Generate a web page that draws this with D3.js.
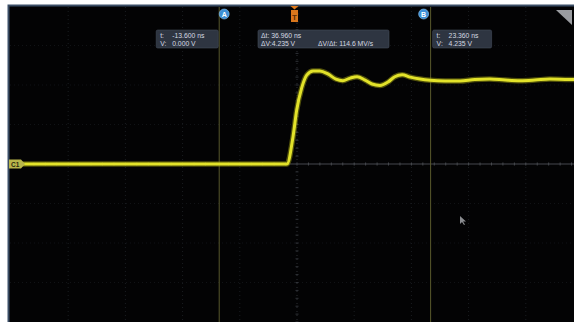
<!DOCTYPE html>
<html>
<head>
<meta charset="utf-8">
<script src="https://cdn.jsdelivr.net/npm/d3@7"></script>
<style>
  body { margin: 0; background: #fff; }
  svg { display: block; }
</style>
</head>
<body>
<svg id="scope" width="574" height="322"></svg>
<script>
// waveform samples (time in ns, volts)
const timeNs = [-50, -20, -1.75, -0.7, -0.05, 0.82, 1.7, 2.8, 4.0, 5.4, 6.8, 8.0, 9.3, 10.5, 11.9, 13.1, 14.5, 15.9, 17.1, 18.4, 19.8, 21.5, 23.3, 25.9, 28.5, 31.1, 33.7, 36.4, 39.0, 41.6, 44.2, 46.9, 49.5];
const voltsV = [0, 0, 0, 1.37, 2.73, 3.85, 4.5, 4.71, 4.71, 4.56, 4.3, 4.22, 4.35, 4.42, 4.25, 4.05, 3.98, 4.15, 4.42, 4.52, 4.4, 4.3, 4.235, 4.2, 4.2, 4.28, 4.3, 4.25, 4.22, 4.25, 4.3, 4.28, 4.27];

const timeGrid = [-40, -30, -20, -10, 10, 20, 30, 40];
const voltGrid = [-6, -4, -2, 2, 4, 6];

const cursorNames = ['A', 'B'];
const cursorTimes = [-13.6, 23.36];
const cursorLines = [['t:', '-13.600 ns', 'V:', '0.000 V'], ['t:', '23.360 ns', 'V:', '4.235 V']];
const deltaLines = ['Δt: 36.960 ns', 'ΔV:4.235 V', 'ΔV/Δt: 114.6 MV/s'];

const svg = d3.select('#scope');
const W = 574, H = 322;

const x = d3.scaleLinear().domain([-50, 50]).range([11, 583]);
const y = d3.scaleLinear().domain([-8, 8]).range([322, 6]);

// screen
svg.append('rect').attr('x', 8).attr('y', 5).attr('width', W - 8).attr('height', H - 5).attr('fill', '#030304');
svg.append('path')
  .attr('d', `M8.5,${H} V5.5 H${W}`)
  .attr('fill', 'none').attr('stroke', '#3b4e66').attr('stroke-width', 2);

const grid = svg.append('g').attr('stroke', '#1a1d21').attr('stroke-dasharray', '1,3');
grid.selectAll('line.v').data(timeGrid).join('line')
  .attr('x1', d => x(d)).attr('x2', d => x(d)).attr('y1', 7).attr('y2', H);
grid.selectAll('line.h').data(voltGrid).join('line')
  .attr('y1', d => y(d)).attr('y2', d => y(d)).attr('x1', 10).attr('x2', W)
  .attr('stroke', '#111316');

// centre cross with minor ticks
const cross = svg.append('g').attr('stroke', '#46494e');
cross.append('line').attr('x1', 10).attr('x2', W).attr('y1', y(0)).attr('y2', y(0));
cross.append('line').attr('x1', x(0)).attr('x2', x(0)).attr('y1', 7).attr('y2', H)
  .attr('stroke', '#2c2f33').attr('stroke-dasharray', '1,3');
cross.selectAll('line.tx').data(d3.range(-50, 51, 2)).join('line')
  .attr('x1', d => x(d)).attr('x2', d => x(d)).attr('y1', y(0) - 1.5).attr('y2', y(0) + 1.5);
cross.selectAll('line.ty').data(d3.range(-8, 8.1, 0.4)).join('line')
  .attr('y1', d => y(d)).attr('y2', d => y(d)).attr('x1', x(0) - 1.5).attr('x2', x(0) + 1.5)
  .attr('stroke', '#303338');

// cursor lines
svg.selectAll('line.cur').data(cursorTimes).join('line')
  .attr('x1', d => x(d)).attr('x2', d => x(d)).attr('y1', 7).attr('y2', H)
  .attr('stroke', '#59592c').attr('stroke-width', 1);

// trace
const pts = timeNs.map((t, i) => [t, voltsV[i]]);
const line = d3.line().x(d => x(d[0])).y(d => y(d[1])).curve(d3.curveMonotoneX);
svg.append('path').datum(pts).attr('d', line)
  .attr('fill', 'none').attr('stroke', '#8f8f10').attr('stroke-width', 5.5).attr('opacity', 0.55);
svg.append('path').datum(pts).attr('d', line)
  .attr('fill', 'none').attr('stroke', '#e2e22a').attr('stroke-width', 3);

// readout boxes
const font = 'Liberation Sans, Arial, sans-serif';
function box(x0, w, rows) {
  const g = svg.append('g');
  g.append('rect').attr('x', x0).attr('y', 30).attr('width', w).attr('height', 18)
    .attr('rx', 1.5).attr('fill', '#2e3541').attr('stroke', '#454e5c').attr('stroke-width', 0.6);
  g.selectAll('text').data(rows).join('text')
    .attr('x', d => x0 + d[0]).attr('y', d => d[1])
    .attr('font-family', font).attr('font-size', 6.8).attr('fill', '#d6dae2')
    .text(d => d[2]);
  return g;
}
const xa = x(cursorTimes[0]), xb = x(cursorTimes[1]);
box(xa - 63, 62, [[4, 37.5, cursorLines[0][0]], [16, 37.5, cursorLines[0][1]], [4, 45.5, cursorLines[0][2]], [16, 45.5, cursorLines[0][3]]]);
box(xb + 2, 59, [[4, 37.5, cursorLines[1][0]], [16, 37.5, cursorLines[1][1]], [4, 45.5, cursorLines[1][2]], [16, 45.5, cursorLines[1][3]]]);
box(258, 131, [[3, 37.5, deltaLines[0]], [3, 45.5, deltaLines[1]], [60, 46, deltaLines[2]]]);

// cursor badges
svg.selectAll('circle.badge').data(cursorTimes).join('circle')
  .attr('cx', d => x(d) + (d < 0 ? 5 : -7)).attr('cy', 14).attr('r', 5)
  .attr('fill', '#3d8fd6').attr('stroke', '#8cc4f0').attr('stroke-width', 0.6);
svg.selectAll('text.badge').data(cursorTimes).join('text')
  .attr('x', d => x(d) + (d < 0 ? 5 : -7)).attr('y', 16.5).attr('text-anchor', 'middle')
  .attr('font-family', font).attr('font-size', 7).attr('font-weight', 'bold').attr('fill', '#fff')
  .text((d, i) => cursorNames[i]);

// trigger marker
const xt = x(0) - 2.5;
svg.append('path').attr('d', `M${xt - 4},6 H${xt + 4} L${xt},9.5 Z`).attr('fill', '#e07a1a');
svg.append('rect').attr('x', xt - 3.5).attr('y', 10).attr('width', 7).attr('height', 12)
  .attr('fill', '#d9761c');
svg.append('text').attr('x', xt).attr('y', 19.5).attr('text-anchor', 'middle')
  .attr('font-family', font).attr('font-size', 8).attr('font-weight', 'bold').attr('fill', '#5a2c06')
  .text('T');

// channel tag
const y0 = y(0);
svg.append('path').attr('d', `M9,${y0 - 4.5} H21 L25,${y0} L21,${y0 + 4.5} H9 Z`).attr('fill', '#b9b64a');
svg.append('text').attr('x', 11).attr('y', y0 + 2.5)
  .attr('font-family', font).attr('font-size', 6.5).attr('font-weight', 'bold').attr('fill', '#2a2a10')
  .text('C1');

// corner fold
svg.append('path').attr('d', `M556,10 H572 V25 Z`).attr('fill', '#9a9ca0');

// mouse pointer
svg.append('path').attr('d', 'M460,216 L460,224 L462,222 L464,225 L465,224.5 L463,221.5 L466,221.5 Z')
  .attr('fill', '#8a8c90');
</script>
</body>
</html>
